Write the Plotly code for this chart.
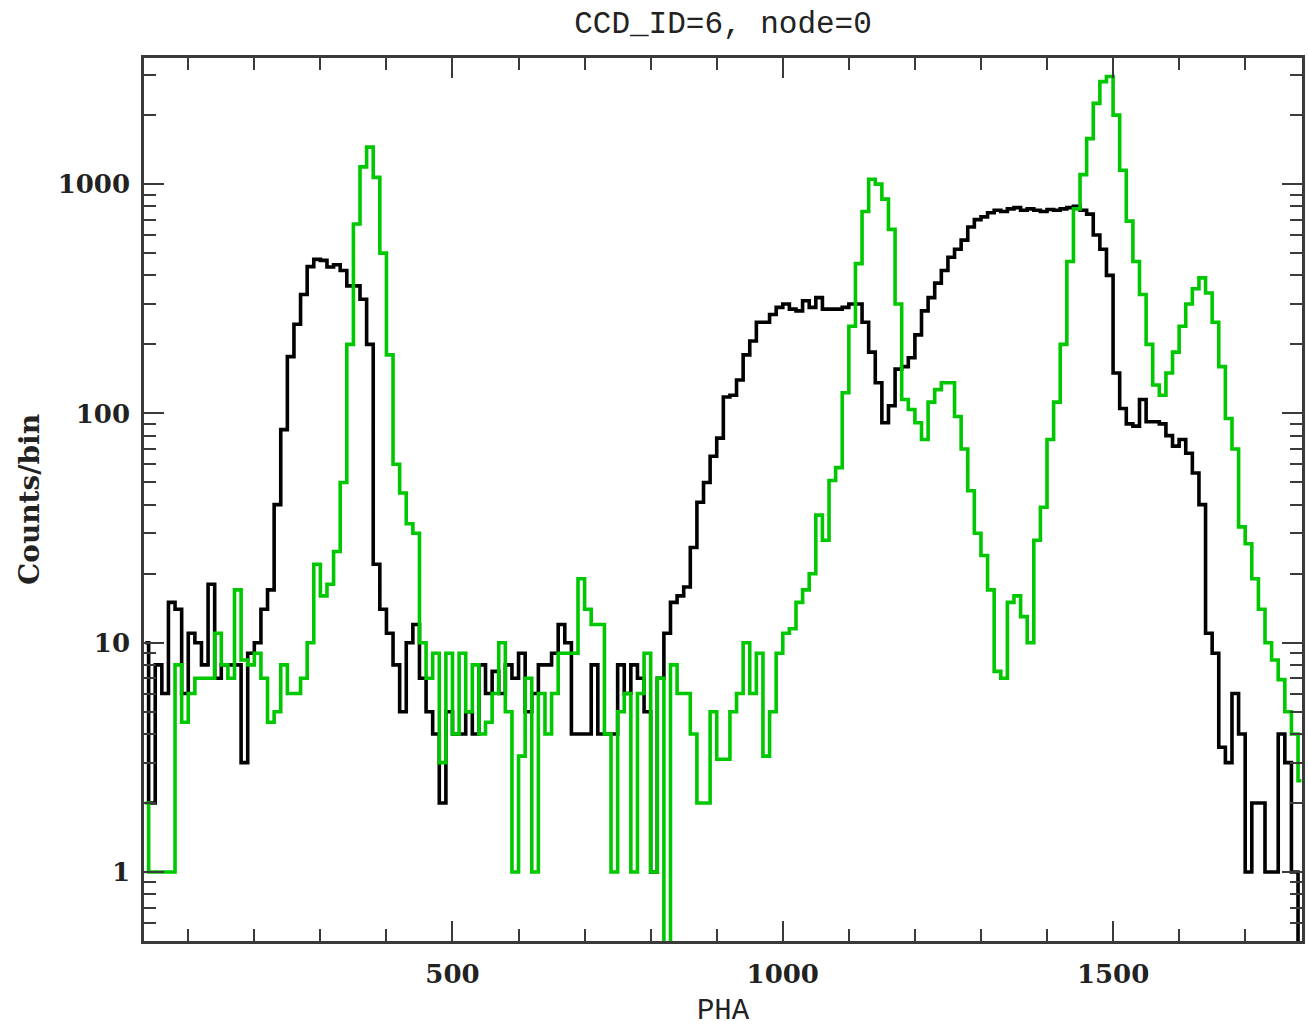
import numpy as np
import plotly.graph_objects as go

# PHA bin centres (10-unit bins)
pha = np.arange(35, 1790, 10)

black_counts = [
    10, 2, 8, 6, 15, 14, 6,
    11, 10, 8, 18, 7, 8, 8, 8, 3, 9,
    10, 14, 17, 40, 85, 177, 245, 330, 437, 470,
    465, 435, 445, 420, 360, 360, 315, 200, 22, 14,
    11, 8, 5, 10, 12, 7, 5, 4, 2, 5,
    4, 4, 5, 4, 8, 6, 7.5, 6, 8, 7,
    9, 5, 6, 8, 8, 9, 12, 10, 4, 4,
    4, 8, 4, 4, 4, 8, 6, 8, 7, 5,
    1, 7, 11, 15, 16, 17.5, 26, 41, 50, 65,
    78, 118, 120, 140, 180, 207, 250, 250, 270, 290,
    300, 285, 280, 310, 290, 320, 285, 285, 285, 290,
    300, 300, 250, 185, 136, 91, 108, 156, 160, 175,
    220, 280, 320, 370, 420, 480, 520, 570, 650, 700,
    720, 750, 770, 760, 780, 790, 770, 780, 770, 760,
    775, 770, 780, 790, 800, 770, 740, 600, 520, 400,
    150, 105, 90, 88, 115, 92, 92, 90, 80, 72,
    77, 67, 55, 40, 11, 9, 3.5, 3, 6, 4,
    1, 2, 2, 1, 1, 4, 3, 1, 0.2,
]

green_counts = [
    2, 1, 1, 1, 1, 8, 4.5,
    6, 7, 7, 7, 11, 8, 7, 17, 8.4, 8,
    9, 7, 4.5, 5, 8, 6, 6, 7, 10, 22,
    16, 18, 25, 50, 200, 670, 1190, 1450, 1070, 500,
    180, 60, 45, 33, 30, 10, 7, 9, 3, 9,
    4, 9, 5, 8, 4, 4.5, 6, 10, 5, 1,
    3.2, 7, 1, 6, 4, 6, 9, 9, 9, 19,
    14, 12, 12, 4, 1, 5, 6, 1, 6, 9,
    1, 7, 0.2, 8, 6, 6, 4, 2, 2, 5,
    3.1, 3.1, 5, 6, 10, 6, 9, 3.2, 5, 9,
    11, 11.5, 15, 17, 20, 36, 28, 51, 58, 123,
    240, 450, 760, 1050, 1000, 860, 635, 300, 115, 104,
    91, 77, 112, 127, 136, 136, 97, 70, 46, 30,
    24, 17, 7.5, 7, 15, 16, 13, 10, 28, 39,
    77, 112, 200, 460, 780, 1100, 1580, 2250, 2800, 2950,
    2000, 1150, 690, 460, 330, 200, 133, 120, 150, 185,
    240, 300, 350, 390, 335, 250, 160, 95, 70, 32,
    27, 19, 14, 10, 8.4, 6.9, 5, 4, 2.5,
]

x_tick_vals = [500, 1000, 1500]
x_tick_text = ["500", "1000", "1500"]
y_tick_vals = [1, 10, 100, 1000]
y_tick_text = ["1", "10", "100", "1000"]

fig = go.Figure()
fig.add_trace(go.Scatter(x=pha, y=black_counts, mode="lines",
                         line=dict(color="black", width=3.6, shape="hvh"),
                         showlegend=False))
fig.add_trace(go.Scatter(x=pha, y=green_counts, mode="lines",
                         line=dict(color="#00c800", width=3.6, shape="hvh"),
                         showlegend=False))

axis_col = "#3a3a3a"
tick_font = dict(family="DejaVu Serif", size=26, color="#222222", weight="bold")

fig.update_layout(
    width=1308, height=1028,
    margin=dict(l=144, r=3, t=58, b=87),
    paper_bgcolor="white", plot_bgcolor="white",
    title=dict(text="CCD_ID=6, node=0", x=0.5, xref="paper", xanchor="center",
               y=1 - 22 / 1028, yref="container", yanchor="middle",
               font=dict(family="Liberation Mono", size=31, color="#222222")),
    xaxis=dict(
        range=[33, 1786], showgrid=False, zeroline=False,
        showline=True, linewidth=2.5, linecolor=axis_col, mirror="ticks",
        tickmode="array", tickvals=x_tick_vals, ticktext=x_tick_text,
        ticks="inside", ticklen=20, tickwidth=2, tickcolor=axis_col,
        minor=dict(ticks="inside", ticklen=12, tickwidth=2, tickcolor=axis_col,
                   dtick=100, tick0=0, showgrid=False),
        tickfont=tick_font, ticklabelstandoff=8,
        title=dict(text="PHA", standoff=12,
                   font=dict(family="Liberation Mono", size=29, color="#222222")),
    ),
    yaxis=dict(
        type="log", range=[np.log10(0.5), np.log10(3550)],
        showgrid=False, zeroline=False,
        showline=True, linewidth=2.5, linecolor=axis_col, mirror="ticks",
        tickmode="array", tickvals=y_tick_vals, ticktext=y_tick_text,
        ticks="inside", ticklen=20, tickwidth=2, tickcolor=axis_col,
        minor=dict(ticks="inside", ticklen=12, tickwidth=2, tickcolor=axis_col,
                   dtick="D1", showgrid=False),
        tickfont=tick_font, ticklabelstandoff=6,
        title=dict(text="Counts/bin", standoff=10,
                   font=dict(family="DejaVu Serif", size=28, color="#222222",
                             weight="bold")),
    ),
)

fig.write_html("out.html")
